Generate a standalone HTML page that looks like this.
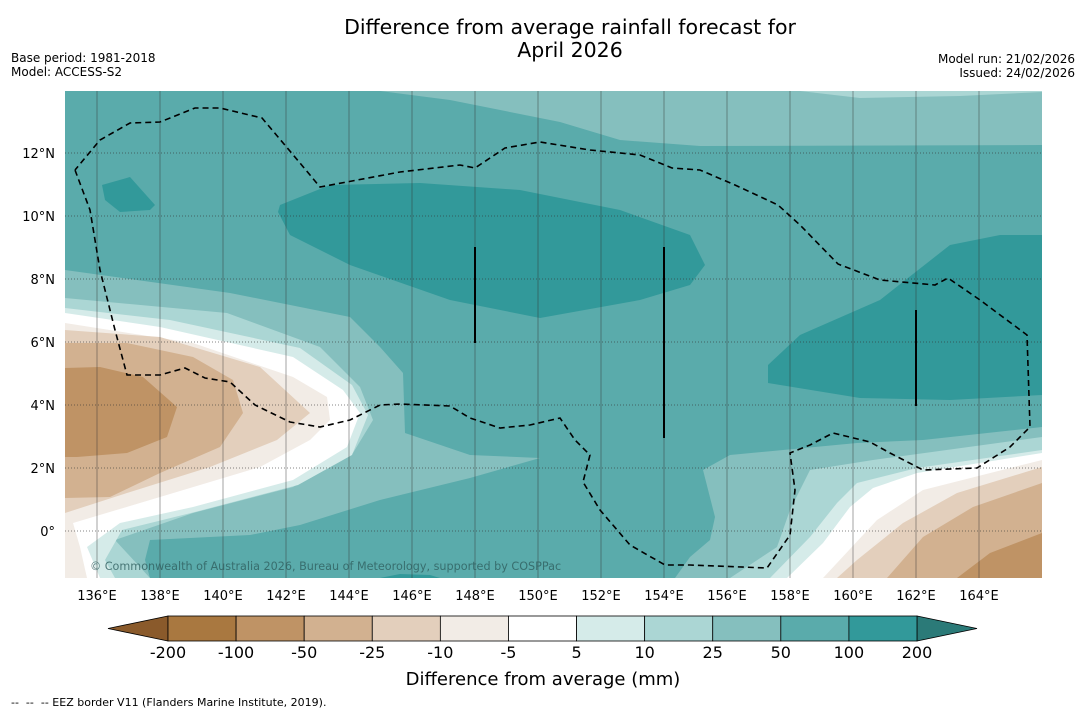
<!DOCTYPE html>
<html><head><meta charset="utf-8"><style>
body{margin:0;background:#fff;width:1085px;height:713px;overflow:hidden;font-family:"Liberation Sans","DejaVu Sans",sans-serif}
svg{position:absolute;left:0;top:0}
</style></head><body>
<svg id="s" width="1085" height="713" font-family="DejaVu Sans, Liberation Sans, sans-serif">
<text x="570" y="34" text-anchor="middle" font-size="20.5">Difference from average rainfall forecast for</text>
<text x="570" y="57" text-anchor="middle" font-size="20.5">April 2026</text>
<text x="11" y="62" font-size="12">Base period: 1981-2018</text>
<text x="11" y="76" font-size="12">Model: ACCESS-S2</text>
<text x="1075" y="63" font-size="12" text-anchor="end">Model run: 21/02/2026</text>
<text x="1075" y="77" font-size="12" text-anchor="end">Issued: 24/02/2026</text>
<defs><clipPath id="mc"><rect x="65" y="91" width="977" height="487"/></clipPath></defs>
<g clip-path="url(#mc)" id="map">
<rect x="65" y="91" width="977" height="487" fill="#5aabab"/>
<polygon fill="#85bfbe" points="380,91 450,100 560,122 620,140 700,146 1042,145 1042,91"/>
<polygon fill="#abd6d4" points="800,91 860,98 960,96 1042,92 1042,91"/>
<polygon fill="#32999a" points="280,205 330,185 420,183 520,190 620,210 690,235 705,265 690,285 640,300 540,318 450,300 350,265 290,235 278,212"/>
<polygon fill="#32999a" points="102,185 130,177 155,205 150,210 120,212 105,200"/>
<polygon fill="#32999a" points="768,365 800,335 880,300 950,245 1000,235 1042,235 1042,395 950,400 860,398 768,383"/>
<polygon fill="#85bfbe" points="65,270 230,293 350,317 380,347 403,373 405,433 470,455 540,458 470,478 380,500 300,525 250,535 150,540 145,560 150,578 65,578"/>
<polygon fill="#abd6d4" points="65,298 227,313 320,347 360,387 373,420 353,453 293,487 193,513 115,540 150,578 65,578"/>
<polygon fill="#d5ebe9" points="65,308 170,320 300,348 352,385 368,415 352,455 298,485 195,512 122,530 105,560 115,578 65,578"/>
<polygon fill="#ffffff" points="65,313 160,327 293,357 343,390 360,413 347,447 293,480 193,507 120,523 87,547 100,578 65,578"/>
<polygon fill="#f2ece6" points="65,323 193,343 293,377 327,397 330,420 310,440 260,467 160,497 73,523 80,547 87,578 65,578"/>
<polygon fill="#e3cfbc" points="65,330 160,337 260,367 310,413 277,440 210,467 127,493 65,513"/>
<polygon fill="#d2b190" points="65,343 127,343 193,357 233,380 243,413 220,447 160,473 110,497 65,498"/>
<polygon fill="#bf9365" points="65,368 100,367 143,377 177,407 167,437 127,453 77,457 65,457"/>
<polygon fill="#85bfbe" points="1042,427 923,440 857,443 730,455 703,470 715,517 710,540 690,557 675,578 1042,578"/>
<polygon fill="#abd6d4" points="1042,437 873,460 810,470 790,510 777,547 730,578 1042,578"/>
<polygon fill="#d5ebe9" points="1042,450 917,468 857,483 837,503 810,537 770,578 1042,578"/>
<polygon fill="#ffffff" points="1042,453 917,473 873,488 850,507 823,543 787,578 1042,578"/>
<polygon fill="#f2ece6" points="1042,460 923,490 877,520 823,578 1042,578"/>
<polygon fill="#e3cfbc" points="1042,467 957,493 903,523 857,560 837,578 1042,578"/>
<polygon fill="#d2b190" points="1042,483 973,507 923,537 887,578 1042,578"/>
<polygon fill="#bf9365" points="1042,533 990,553 957,578 1042,578"/>
<polygon fill="#32999a" points="380,578 400,574 430,575 440,578"/>
<g id="grid"></g>
<g stroke="#000" stroke-width="2">
<line x1="475" y1="247" x2="475" y2="343"/><line x1="664" y1="247" x2="664" y2="438"/><line x1="916" y1="310" x2="916" y2="406"/></g>
<polyline fill="none" stroke="#000" stroke-width="1.6" stroke-dasharray="6,4" points="75,170 90,210 100,270 115,330 127,375 160,375 185,368 205,378 230,382 255,405 290,422 320,427 350,420 380,405 400,404 450,406 470,418 500,428 530,425 560,418 575,440 590,455 583,482 600,510 630,545 665,565 690,565 767,568 790,535 795,490 790,453 810,445 833,433 870,442 890,453 923,470 977,468 1010,447 1030,427 1027,335 980,300 948,278 935,285 880,280 838,264 800,225 778,205 735,185 700,170 672,168 640,155 590,150 540,142 505,148 475,168 460,165 400,172 320,187 300,163 262,118 220,108 195,108 160,122 130,123 100,140 75,170"/>
<text x="90" y="570" font-size="11.2" fill="#2f5f5f" fill-opacity="0.8">© Commonwealth of Australia 2026, Bureau of Meteorology, supported by COSPPac</text>
</g>
<g id="axes"></g>
<g id="cbar"></g>
<text x="543" y="685" text-anchor="middle" font-size="18">Difference from average (mm)</text>
<text x="11" y="706" font-size="11" xml:space="preserve">--  --  -- EEZ border V11 (Flanders Marine Institute, 2019).</text>
</svg>
<script>
const lonTicks=[136,138,140,142,144,146,148,150,152,154,156,158,160,162,164];
const latTicks=[0,2,4,6,8,10,12];
const cbLabels=["-200","-100","-50","-25","-10","-5","5","10","25","50","100","200"];
const cbColors=["#a97840","#bf9365","#d2b190","#e3cfbc","#f2ece6","#ffffff","#d5ebe9","#abd6d4","#85bfbe","#5aabab","#32999a"];
const lowColor="#8a5a2b", highColor="#2b7a78";
const NS="http://www.w3.org/2000/svg";
function xOf(lon){return 97+(lon-136)*31.5;}
function yOf(lat){return 531-lat*31.5;}
function mk(t,a,p){const e=document.createElementNS(NS,t);for(const k in a)e.setAttribute(k,a[k]);p.appendChild(e);return e;}
const grid=document.getElementById('grid'),axes=document.getElementById('axes'),cb=document.getElementById('cbar');
lonTicks.forEach(l=>{const x=xOf(l);
 const g=mk('line',{x1:x,y1:91,x2:x,y2:578,stroke:'#333','stroke-opacity':0.45,'stroke-width':1},grid);
 
 
 const t=mk('text',{x:x,y:600,'text-anchor':'middle','font-size':13},axes);t.textContent=l+'°E';
 
 });
latTicks.forEach(l=>{const y=yOf(l);
 const g=mk('line',{x1:65,y1:y,x2:1042,y2:y,stroke:'#333','stroke-opacity':0.6,'stroke-width':1,'stroke-dasharray':'1,2'},grid);
 
 
 const t=mk('text',{x:55,y:y+5,'text-anchor':'end','font-size':13},axes);t.textContent=l===0?'0°':l+'°N';
 
 });
const x0=168,bw=(917-168)/cbColors.length,y0=616,h=25;
const la=mk('polygon',{points:`108,${y0+h/2} ${x0},${y0} ${x0},${y0+h}`,fill:lowColor,stroke:'#000','stroke-width':0.8},cb);


const ha=mk('polygon',{points:`977,${y0+h/2} 917,${y0} 917,${y0+h}`,fill:highColor,stroke:'#000','stroke-width':0.8},cb);


cbColors.forEach((c,i)=>{const r=mk('rect',{x:x0+i*bw,y:y0,width:bw,height:h,fill:c,stroke:'#000','stroke-width':0.8},cb);
 
 });
cbLabels.forEach((s,i)=>{const t=mk('text',{x:x0+i*bw,y:658,'text-anchor':'middle','font-size':16},cb);t.textContent=s;
 
 });
</script>
</body></html>
